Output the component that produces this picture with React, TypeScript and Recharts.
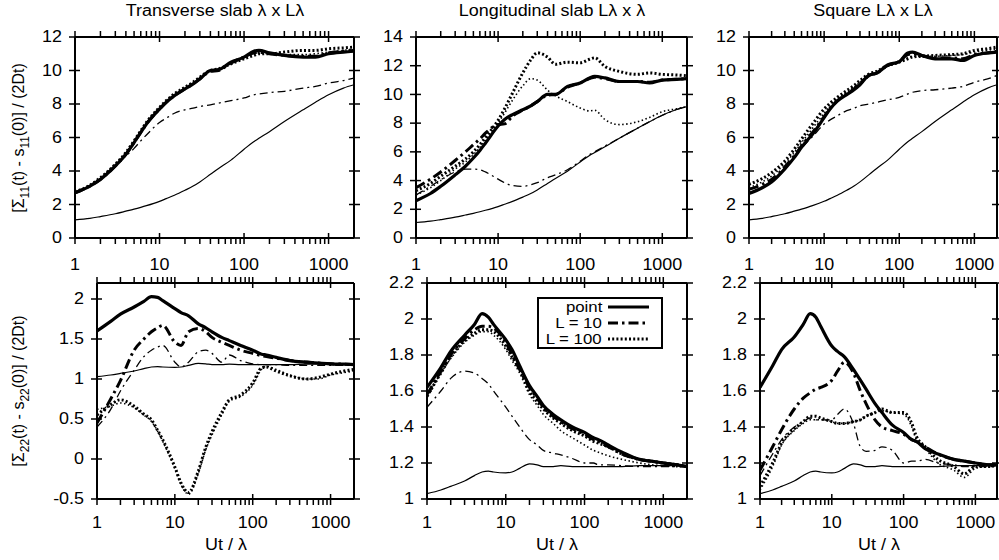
import React from 'react';
import { LineChart, Line, XAxis, YAxis, Legend } from 'recharts';

// Ut / lambda sample points shared by every curve
const ut = [1, 1.5, 2, 3, 4, 5, 6, 7, 10, 12, 15, 20, 25, 30, 40, 50, 70, 100, 130, 150, 200, 300, 500, 700, 1000, 1500, 2000];

const xTicks = [1, 2, 3, 4, 5, 6, 7, 8, 9, 10, 20, 30, 40, 50, 60, 70, 80, 90, 100, 200, 300, 400, 500, 600, 700, 800, 900, 1000];
const xMajor = [1, 10, 100, 1000];
const yTicks12 = [0, 2, 4, 6, 8, 10, 12];
const yTicks14 = [0, 2, 4, 6, 8, 10, 12, 14];
const yTicksBL = [-0.5, 0, 0.5, 1, 1.5, 2];
const yTicksB = [1, 1.2, 1.4, 1.6, 1.8, 2, 2.2];

// top row: thin solid reference curve
const refTop = [1.08, 1.17, 1.28, 1.45, 1.6, 1.72, 1.83, 1.93, 2.19, 2.35, 2.55, 2.85, 3.1, 3.35, 3.8, 4.15, 4.65, 5.3, 5.75, 5.95, 6.35, 6.95, 7.65, 8.1, 8.55, 8.95, 9.15];

// transverse slab, sigma11
const tlPt = [2.7, 3.1, 3.5, 4.3, 5.0, 5.7, 6.3, 6.8, 7.7, 8.1, 8.5, 8.9, 9.2, 9.5, 10.0, 10.05, 10.5, 10.8, 11.15, 11.2, 11.05, 10.9, 10.8, 10.8, 11.0, 11.1, 11.15];
const tlL10 = [2.7, 3.1, 3.5, 4.3, 5.0, 5.7, 6.3, 6.8, 7.7, 8.1, 8.5, 8.9, 9.2, 9.5, 9.95, 10.0, 10.45, 10.8, 11.05, 11.1, 11.0, 10.9, 10.85, 10.85, 11.05, 11.15, 11.2];
const tlL100 = [2.75, 3.15, 3.6, 4.4, 5.1, 5.8, 6.4, 6.9, 7.8, 8.2, 8.6, 9.0, 9.3, 9.6, 10.0, 10.1, 10.4, 10.7, 10.9, 11.0, 11.0, 11.1, 11.2, 11.2, 11.3, 11.35, 11.4];
const tlL10t = [2.7, 3.1, 3.55, 4.35, 4.9, 5.35, 5.8, 6.15, 6.9, 7.15, 7.45, 7.65, 7.75, 7.85, 7.95, 8.05, 8.2, 8.36, 8.55, 8.6, 8.68, 8.76, 8.95, 9.05, 9.25, 9.4, 9.55];
const tlL100t = [2.7, 3.1, 3.55, 4.35, 5.05, 5.75, 6.35, 6.85, 7.75, 8.15, 8.55, 8.95, 9.25, 9.55, 10.0, 10.05, 10.45, 10.75, 11.0, 11.05, 11.0, 10.95, 10.95, 11.0, 11.1, 11.2, 11.3];

// longitudinal slab, sigma11
const tmPt = [2.6, 3.1, 3.6, 4.4, 5.0, 5.57, 6.1, 6.6, 7.8, 8.25, 8.6, 8.94, 9.2, 9.5, 10.0, 10.0, 10.56, 10.8, 11.15, 11.26, 11.15, 10.9, 10.9, 10.8, 11.0, 11.05, 11.1];
const tmL10 = [3.5, 4.1, 4.6, 5.4, 6.0, 6.5, 6.9, 7.3, 7.9, 7.95, 8.5, 8.9, 9.2, 9.5, 9.95, 10.0, 10.5, 10.8, 11.1, 11.2, 11.1, 10.9, 10.9, 10.85, 11.0, 11.05, 11.1];
const tmL100 = [3.3, 3.8, 4.3, 5.0, 5.5, 6.0, 6.5, 7.0, 8.2, 9.0, 10.1, 11.5, 12.4, 12.9, 12.6, 12.1, 12.25, 12.2, 12.45, 12.55, 11.95, 11.6, 11.4, 11.5, 11.4, 11.35, 11.3];
const tmL10t = [3.0, 3.6, 4.05, 4.6, 4.8, 4.8, 4.75, 4.6, 4.1, 3.85, 3.65, 3.6, 3.7, 3.85, 4.2, 4.4, 4.75, 5.35, 5.8, 6.0, 6.4, 6.95, 7.65, 8.1, 8.55, 8.95, 9.15];
const tmL100t = [3.0, 3.5, 4.0, 4.8, 5.3, 5.8, 6.3, 6.8, 8.0, 8.7, 9.6, 10.6, 11.1, 11.0, 10.3, 9.9, 9.5, 9.05, 8.85, 8.9, 8.25, 7.9, 8.1, 8.4, 8.8, 9.0, 9.15];

// square, sigma11
const trPt = [2.66, 3.0, 3.35, 4.13, 4.8, 5.41, 5.85, 6.2, 7.19, 7.7, 8.17, 8.56, 8.85, 9.15, 9.74, 9.84, 10.33, 10.53, 11.05, 11.1, 10.9, 10.7, 10.7, 10.6, 10.9, 11.05, 11.1];
const trL10 = [2.9, 3.2, 3.5, 4.25, 4.9, 5.5, 5.95, 6.3, 7.25, 7.75, 8.2, 8.6, 8.9, 9.2, 9.7, 9.85, 10.3, 10.55, 10.95, 11.0, 10.9, 10.75, 10.75, 10.7, 10.95, 11.05, 11.15];
const trL100 = [3.2, 3.55, 3.9, 4.6, 5.3, 5.9, 6.4, 6.8, 7.7, 8.05, 8.4, 8.8, 9.1, 9.4, 9.8, 9.95, 10.3, 10.5, 10.7, 10.8, 10.85, 10.9, 10.95, 11.0, 11.2, 11.3, 11.4];
const trL10t = [2.7, 3.05, 3.4, 4.15, 4.8, 5.35, 5.75, 6.05, 6.8, 7.05, 7.3, 7.6, 7.75, 7.9, 8.0, 8.1, 8.25, 8.4, 8.6, 8.7, 8.8, 8.85, 8.95, 9.05, 9.3, 9.5, 9.7];
const trL100t = [3.0, 3.35, 3.7, 4.45, 5.1, 5.7, 6.15, 6.55, 7.45, 7.9, 8.3, 8.7, 9.0, 9.3, 9.75, 9.9, 10.25, 10.5, 10.75, 10.85, 10.85, 10.85, 10.9, 10.95, 11.1, 11.2, 11.3];

// bottom row: thin solid reference curve
const refBot = [1.03, 1.05, 1.07, 1.1, 1.13, 1.15, 1.155, 1.15, 1.145, 1.15, 1.17, 1.195, 1.19, 1.18, 1.18, 1.185, 1.18, 1.18, 1.18, 1.18, 1.18, 1.18, 1.185, 1.185, 1.185, 1.185, 1.185];

// transverse slab, sigma22
const blPt = [1.6, 1.72, 1.81, 1.9, 1.97, 2.03, 2.02, 1.98, 1.88, 1.83, 1.79, 1.69, 1.64, 1.59, 1.52, 1.48, 1.42, 1.36, 1.31, 1.3, 1.27, 1.23, 1.21, 1.2, 1.19, 1.185, 1.18];
const blL10 = [0.45, 0.75, 0.98, 1.36, 1.5, 1.59, 1.64, 1.67, 1.46, 1.42, 1.59, 1.63, 1.59, 1.52, 1.46, 1.42, 1.36, 1.32, 1.29, 1.28, 1.26, 1.23, 1.21, 1.2, 1.19, 1.185, 1.18];
const blL100 = [0.55, 0.68, 0.74, 0.66, 0.56, 0.49, 0.36, 0.24, -0.1, -0.3, -0.42, -0.15, 0.15, 0.34, 0.58, 0.74, 0.8, 0.95, 1.14, 1.15, 1.1, 1.04, 1.0, 1.02, 1.06, 1.1, 1.12];
const blL10t = [0.4, 0.62, 0.85, 1.11, 1.28, 1.36, 1.4, 1.42, 1.21, 1.15, 1.21, 1.34, 1.36, 1.32, 1.21, 1.3, 1.23, 1.19, 1.18, 1.18, 1.18, 1.17, 1.17, 1.17, 1.17, 1.17, 1.17];
const blL100t = [0.62, 0.66, 0.7, 0.64, 0.55, 0.47, 0.35, 0.22, -0.12, -0.32, -0.44, -0.18, 0.12, 0.3, 0.55, 0.72, 0.78, 0.92, 1.12, 1.16, 1.12, 1.05, 1.0, 1.0, 1.05, 1.08, 1.1];

// longitudinal slab, sigma22
const bmPt = [1.62, 1.73, 1.82, 1.91, 1.97, 2.03, 2.01, 1.97, 1.885, 1.83, 1.74, 1.63, 1.57, 1.52, 1.47, 1.44, 1.4, 1.37, 1.34, 1.33, 1.3, 1.26, 1.22, 1.21, 1.2, 1.19, 1.18];
const bmL10 = [1.58, 1.71, 1.8, 1.89, 1.94, 1.96, 1.96, 1.95, 1.87, 1.8, 1.72, 1.62, 1.56, 1.51, 1.46, 1.43, 1.39, 1.36, 1.33, 1.32, 1.29, 1.25, 1.22, 1.21, 1.2, 1.19, 1.18];
const bmL100 = [1.57, 1.7, 1.79, 1.88, 1.92, 1.94, 1.94, 1.93, 1.85, 1.79, 1.72, 1.6, 1.54, 1.5, 1.45, 1.42, 1.38, 1.35, 1.32, 1.31, 1.29, 1.25, 1.22, 1.21, 1.2, 1.19, 1.18];
const bmL10t = [1.51, 1.6, 1.67, 1.71, 1.7, 1.67, 1.64, 1.6, 1.51, 1.46, 1.4, 1.33, 1.3, 1.27, 1.255, 1.245, 1.225, 1.2, 1.2, 1.19, 1.19, 1.185, 1.18, 1.18, 1.18, 1.18, 1.18];
const bmL100t = [1.57, 1.7, 1.78, 1.87, 1.91, 1.93, 1.93, 1.91, 1.83, 1.77, 1.7, 1.58, 1.52, 1.47, 1.42, 1.38, 1.34, 1.3, 1.27, 1.26, 1.24, 1.22, 1.2, 1.19, 1.185, 1.18, 1.18];

// square, sigma22
const brPt = [1.62, 1.74, 1.83, 1.9, 1.97, 2.03, 2.01, 1.96, 1.85, 1.82, 1.79, 1.72, 1.66, 1.61, 1.53, 1.48, 1.41, 1.37, 1.33, 1.32, 1.28, 1.25, 1.22, 1.21, 1.2, 1.19, 1.19];
const brL10 = [1.16, 1.29, 1.385, 1.5, 1.56, 1.59, 1.61, 1.62, 1.66, 1.71, 1.76, 1.7, 1.6, 1.53, 1.44, 1.4, 1.38, 1.36, 1.33, 1.32, 1.29, 1.25, 1.22, 1.21, 1.2, 1.19, 1.19];
const brL100 = [1.07, 1.2, 1.31, 1.39, 1.43, 1.46, 1.46, 1.45, 1.43, 1.42, 1.42, 1.43, 1.44, 1.46, 1.48, 1.5, 1.48, 1.48, 1.42, 1.35, 1.29, 1.22, 1.18, 1.14, 1.18, 1.18, 1.19];
const brL10t = [1.13, 1.25, 1.33, 1.4, 1.43, 1.45, 1.44, 1.44, 1.44, 1.47, 1.5, 1.42, 1.29, 1.265, 1.27, 1.29, 1.27, 1.2, 1.21, 1.21, 1.22, 1.2, 1.19, 1.18, 1.18, 1.18, 1.18];
const brL100t = [1.05, 1.18, 1.3, 1.38, 1.42, 1.44, 1.44, 1.44, 1.43, 1.42, 1.42, 1.43, 1.44, 1.46, 1.48, 1.49, 1.48, 1.47, 1.4, 1.33, 1.28, 1.2, 1.16, 1.12, 1.17, 1.18, 1.18];

const FONT = '"Liberation Sans", Arial, Helvetica, sans-serif';
const STRETCH = 1.12;
const AXIS = { stroke: '#000', strokeWidth: 2 };

// draw order: thin first, thick on top
const SERIES = [
  { key: 'ref', name: 'ref', w: 1.2, dash: undefined },
  { key: 'l10t', name: 'L = 10 thin', w: 1.3, dash: '8 4 2 4' },
  { key: 'l100t', name: 'L = 100 thin', w: 1.6, dash: '1.5 2.5' },
  { key: 'l100', name: 'L = 100', w: 3, dash: '2 2.2' },
  { key: 'l10', name: 'L = 10', w: 3, dash: '10 4 2.5 4' },
  { key: 'pt', name: 'point', w: 3.2, dash: undefined },
];
const legendItems = ['point', 'L = 10', 'L = 100'];

const panels = [
  { id: 'tl', left: 75, right: 354, top: 37, bottom: 238, yDomain: [0, 12], yTicks: yTicks12, labelDy: 21,
    cols: { ref: refTop, pt: tlPt, l10: tlL10, l100: tlL100, l10t: tlL10t, l100t: tlL100t } },
  { id: 'tm', left: 416, right: 687, top: 37, bottom: 238, yDomain: [0, 14], yTicks: yTicks14, labelDy: 21,
    cols: { ref: refTop, pt: tmPt, l10: tmL10, l100: tmL100, l10t: tmL10t, l100t: tmL100t } },
  { id: 'tr', left: 749, right: 997, top: 37, bottom: 238, yDomain: [0, 12], yTicks: yTicks12, labelDy: 21,
    cols: { ref: refTop, pt: trPt, l10: trL10, l100: trL100, l10t: trL10t, l100t: trL100t } },
  { id: 'bl', left: 97, right: 354, top: 283, bottom: 499, yDomain: [-0.5, 2.2], yTicks: yTicksBL, labelDy: 18,
    cols: { ref: refBot, pt: blPt, l10: blL10, l100: blL100, l10t: blL10t, l100t: blL100t } },
  { id: 'bm', left: 427, right: 687, top: 283, bottom: 499, yDomain: [1, 2.2], yTicks: yTicksB, labelDy: 18, legend: true,
    cols: { ref: refBot, pt: bmPt, l10: bmL10, l100: bmL100, l10t: bmL10t, l100t: bmL100t } },
  { id: 'br', left: 760, right: 997, top: 283, bottom: 499, yDomain: [1, 2.2], yTicks: yTicksB, labelDy: 18,
    cols: { ref: refBot, pt: brPt, l10: brL10, l100: brL100, l10t: brL10t, l100t: brL100t } },
];

// outer space around each plot box; axes are 1px wide, so the margin is one less
const PAD = { top: 12, right: 12, bottom: 44, left: 62 };
const MARGIN = { top: PAD.top - 1, right: PAD.right - 1, bottom: PAD.bottom - 1, left: PAD.left - 1 };

const BottomTick = (props: any) => {
  const { x, y, payload, dy } = props;
  const major = xMajor.includes(payload.value);
  return (
    <g>
      <line x1={x} x2={x} y1={y} y2={y - (major ? 11 : 5)} stroke="#000" strokeWidth={1.5} />
      {major && (
        <text transform={`translate(${x},${y + dy}) scale(${STRETCH},1)`} textAnchor="middle" dominantBaseline="central"
          fontSize={16} fontFamily={FONT} fill="#000">{payload.value}</text>
      )}
    </g>
  );
};

const TopTick = (props: any) => {
  const { x, y, payload } = props;
  const major = xMajor.includes(payload.value);
  return <line x1={x} x2={x} y1={y} y2={y + (major ? 11 : 5)} stroke="#000" strokeWidth={1.5} />;
};

const LeftTick = (props: any) => {
  const { x, y, payload } = props;
  return (
    <g>
      <line x1={x} x2={x + 11} y1={y} y2={y} stroke="#000" strokeWidth={1.5} />
      <text transform={`translate(${x - 7},${y}) scale(${STRETCH},1)`} textAnchor="end" dominantBaseline="central"
        fontSize={16} fontFamily={FONT} fill="#000">{payload.value}</text>
    </g>
  );
};

const RightTick = (props: any) => {
  const { x, y } = props;
  return <line x1={x} x2={x - 11} y1={y} y2={y} stroke="#000" strokeWidth={1.5} />;
};

const LegendBox = () => (
  <div style={{ border: '2px solid #000', padding: '0 8px 0 4px', boxSizing: 'border-box', width: 126, fontFamily: FONT, fontSize: 14 }}>
    {legendItems.map((name) => {
      const s = SERIES.find((d) => d.name === name)!;
      return (
        <div key={name} style={{ display: 'flex', alignItems: 'center', justifyContent: 'flex-end', height: 16, lineHeight: '16px' }}>
          <span style={{ display: 'inline-block', transform: 'scaleX(1.2)', transformOrigin: 'right center' }}>{name}</span>
          <svg width={46} height={8} style={{ marginLeft: 5 }}>
            <line x1={1} x2={42} y1={4} y2={4} stroke="#000" strokeWidth={s.w} strokeDasharray={s.dash} />
          </svg>
        </div>
      );
    })}
  </div>
);

function Panel({ p }: { p: any }) {
  const rows = ut.map((u, i) => {
    const row: any = { ut: u };
    for (const k of Object.keys(p.cols)) row[k] = p.cols[k][i];
    return row;
  });
  const w = p.right - p.left + PAD.left + PAD.right;
  const h = p.bottom - p.top + PAD.top + PAD.bottom;
  const cl = p.left - PAD.left;
  const ct = p.top - PAD.top;
  return (
    <div style={{ position: 'absolute', left: cl, top: ct }}>
      <LineChart width={w} height={h} data={rows} margin={MARGIN}>
        <XAxis dataKey="ut" type="number" scale="log" domain={[1, 2000]} allowDataOverflow ticks={xTicks} interval={0}
          height={1} tickLine={false} tickMargin={0} axisLine={AXIS} tick={(t: any) => <BottomTick {...t} dy={p.labelDy} />} />
        <XAxis xAxisId="top" orientation="top" dataKey="ut" type="number" scale="log" domain={[1, 2000]} allowDataOverflow
          ticks={xTicks} interval={0} height={1} tickLine={false} tickMargin={0} axisLine={AXIS} tick={TopTick} />
        <YAxis type="number" domain={p.yDomain} allowDataOverflow ticks={p.yTicks} interval={0} width={1}
          tickLine={false} tickMargin={0} axisLine={AXIS} tick={LeftTick} />
        <YAxis yAxisId="right" orientation="right" type="number" domain={p.yDomain} allowDataOverflow ticks={p.yTicks}
          interval={0} width={1} tickLine={false} tickMargin={0} axisLine={AXIS} tick={RightTick} />
        {SERIES.map((s) => (
          <Line key={s.key} dataKey={s.key} name={s.name} type="monotone" stroke="#000" strokeWidth={s.w}
            strokeDasharray={s.dash} dot={false} activeDot={false} isAnimationActive={false} />
        ))}
        {p.legend && (
          <Legend layout="vertical" align="center" verticalAlign="middle" content={() => <LegendBox />}
            wrapperStyle={{ left: 537 - cl, top: 297 - ct, width: 126 }} />
        )}
      </LineChart>
    </div>
  );
}

const titles = [
  { text: 'Transverse slab λ x Lλ', cx: 214.5 },
  { text: 'Longitudinal slab Lλ x λ', cx: 551.5 },
  { text: 'Square Lλ x Lλ', cx: 873 },
];
const xLabelCenters = [225.5, 557, 878.5];

export default function App() {
  const txt: React.CSSProperties = { position: 'absolute', fontFamily: FONT, fontSize: 16, lineHeight: '18px', whiteSpace: 'nowrap', color: '#000' };
  return (
    <div style={{ position: 'absolute', left: 0, top: 0, width: 999, height: 560, overflow: 'hidden', background: '#fff' }}>
      {panels.map((p) => <Panel key={p.id} p={p} />)}
      {titles.map((t) => (
        <div key={t.text} style={{ ...txt, left: t.cx, top: 2, transform: `translateX(-50%) scaleX(${STRETCH})` }}>{t.text}</div>
      ))}
      {xLabelCenters.map((cx) => (
        <div key={cx} style={{ ...txt, left: cx, top: 536, transform: `translateX(-50%) scaleX(${STRETCH})` }}>Ut / λ</div>
      ))}
      <div style={{ ...txt, fontSize: 16, left: 22, top: 137.5, transform: 'translate(-50%, -50%) rotate(-90deg)' }}>
        [Σ<sub style={{ fontSize: 12 }}>11</sub>(t) - s<sub style={{ fontSize: 12 }}>11</sub>(0)] / (2Dt)
      </div>
      <div style={{ ...txt, fontSize: 16, left: 22, top: 391, transform: 'translate(-50%, -50%) rotate(-90deg)' }}>
        [Σ<sub style={{ fontSize: 12 }}>22</sub>(t) - s<sub style={{ fontSize: 12 }}>22</sub>(0)] / (2Dt)
      </div>
    </div>
  );
}
